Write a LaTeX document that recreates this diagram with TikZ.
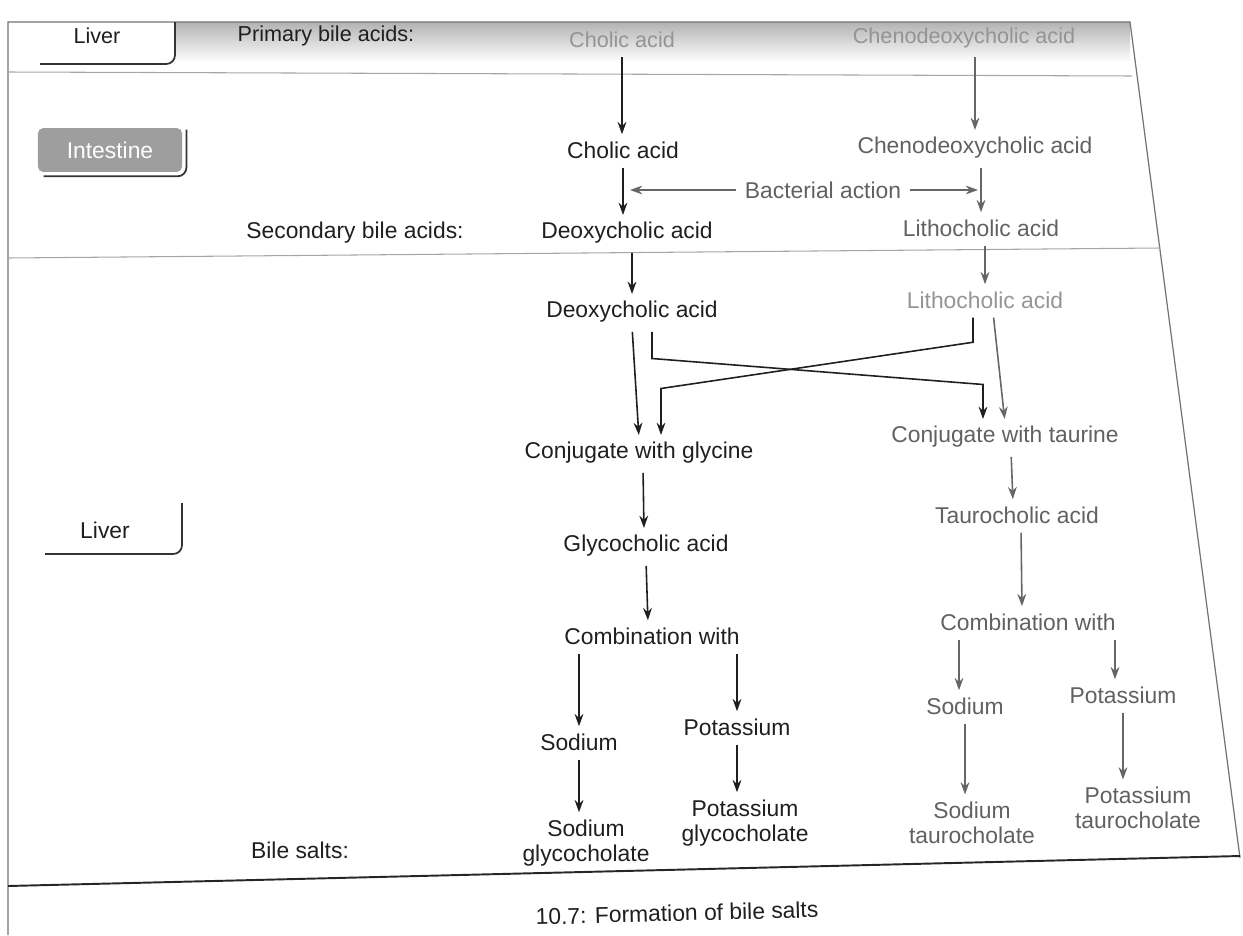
\documentclass[tikz,border=0pt]{standalone}
\usepackage{fontspec}
\setmainfont{Liberation Sans}
\usetikzlibrary{arrows.meta,calc}
\begin{document}
\begin{tikzpicture}[x=0.2mm,y=-0.2mm,
 lbl/.style={inner sep=2pt, align=center, font=\fontsize{13}{14.5}\selectfont},
 dk/.style={lbl, text=black!88},
 md/.style={lbl, text=black!62},
 lt/.style={lbl, text=black!42},
 toprow/.style={font=\fontsize{12.3}{14}\selectfont},
 arr/.style={-{Stealth[length=7pt,width=5pt]}, line width=0.9pt, draw=black!88, shorten <=3pt, shorten >=2pt},
 marr/.style={arr, draw=black!60},
 rulebar/.style={line width=0.6pt, draw=black!35},
 framebar/.style={line width=0.7pt, draw=black!55},
 boxedge/.style={line width=1pt, draw=black!80, rounded corners=5pt},
 intest/.style={lbl, fill=black!38, text=white, rounded corners=3pt, minimum width=82pt, minimum height=25pt},
]
\useasboundingbox (0,0) rectangle (1243,935);
% photo shadow band and frame
\shade[top color=black!30, bottom color=white] (175,22) rectangle (1130,62);
\draw[framebar] (8,935) -- (8,22) -- (1130,22) -- (1240,858);
\draw[line width=1.1pt, draw=black!85] (8,886) -- (1240,856);
\draw[rulebar] (8,72) -- (1132,76);
\draw[rulebar] (8,258) -- (1160,248);

% region labels
\node[dk,toprow] (liv1) at (97,36) {Liver};
\draw[boxedge] (40,64) -- (175,64) -- (175,22);
\node[intest] (int) at (110,150) {Intestine};
\draw[boxedge] ($(int.south west)+(6,4)$) -- ($(int.south east)+(4,4)$) -- ($(int.north east)+(4,2)$);
\node[dk] (liv2) at (105,530) {Liver};
\draw[boxedge] (45,554) -- (182,554) -- (182,503);

% row labels
\node[dk,toprow] (pba) at (326,36) {Primary bile acids:};
\node[dk] (sba) at (355,233) {Secondary bile acids:};
\node[dk] (bs) at (300,850) {Bile salts:};

% nodes
\node[lt,toprow] (cho1) at (622,40) {Cholic acid};
\node[lt,toprow] (che1) at (964,38) {Chenodeoxycholic acid};
\node[dk] (cho2) at (623,150) {Cholic acid};
\node[md] (che2) at (975,148) {Chenodeoxycholic acid};
\node[md] (bac) at (823,190) {Bacterial action};
\node[dk] (deo1) at (627,233) {Deoxycholic acid};
\node[md] (lit1) at (981,228) {Lithocholic acid};
\node[dk] (deo2) at (632,312) {Deoxycholic acid};
\node[lt] (lit2) at (985,300) {Lithocholic acid};
\node[dk] (cgly) at (639,453) {Conjugate with glycine};
\node[md] (ctau) at (1005,437) {Conjugate with taurine};
\node[dk] (gca) at (646,546) {Glycocholic acid};
\node[md] (tca) at (1017,515) {Taurocholic acid};
\node[dk] (cw1) at (652,636) {Combination with};
\node[md] (cw2) at (1028,622) {Combination with};
\node[dk] (na1) at (579,742) {Sodium};
\node[dk] (k1) at (737,727) {Potassium};
\node[md] (na2) at (965,706) {Sodium};
\node[md] (k2) at (1123,695) {Potassium};
\node[dk] (nag) at (586,843) {Sodium\\glycocholate};
\node[dk] (kg) at (745,823) {Potassium\\glycocholate};
\node[md] (nat) at (972,823) {Sodium\\taurocholate};
\node[md] (kt) at (1138,808) {Potassium\\taurocholate};
\node[dk, rotate=1.5] (cap) at (677,913) {10.7: Formation of bile salts};

% bacterial action arrows
\coordinate (bacl) at (630,190);
\coordinate (bacr) at (978,190);
\draw[marr, line width=0.6pt, shorten >=0pt] (bac.west) -- (bacl);
\draw[marr, line width=0.6pt, shorten >=0pt] (bac.east) -- (bacr);

% vertical flow
\draw[arr] (cho1.south) -- (cho1.south |- cho2.north);
\draw[marr] (che1.south -| che2.north) -- (che2.north);
\draw[arr] (cho2.south) -- (cho2.south |- deo1.north);
\draw[marr] (che2.south -| lit1.north) -- (lit1.north);
\draw[arr] (deo1.south -| deo2.north) -- (deo2.north);
\draw[marr] (lit1.south -| lit2.north) -- (lit2.north);

% crossing conjugation paths
\draw[arr] (deo2.south) -- (cgly.north);
\draw[arr] ($(deo2.south)+(20,0)$) -- ++(0,32) -- ($(ctau.north)+(-22,-38)$) -- ($(ctau.north)+(-22,0)$);
\draw[arr] ($(lit2.south)+(-12,0)$) -- ++(0,30) -- ($(cgly.north)+(22,-50)$) -- ($(cgly.north)+(22,0)$);
\draw[marr] ($(lit2.south)+(8,0)$) -- (ctau.north);

% lower flow
\draw[arr] ($(cgly.south)+(4,0)$) -- ($(gca.north)+(-2,0)$);
\draw[arr] (gca.south) -- ($(cw1.north)+(-4,0)$);
\draw[marr] ($(ctau.south)+(6,0)$) -- ($(tca.north)+(-4,0)$);
\draw[marr] ($(tca.south)+(4,0)$) -- ($(cw2.north)+(-6,0)$);
\draw[arr] (cw1.south -| na1.north) -- (na1.north);
\draw[arr] (cw1.south -| k1.north) -- (k1.north);
\draw[marr] ($(cw2.south -| na2.north)+(-6,0)$) -- ($(na2.north)+(-6,0)$);
\draw[marr] ($(cw2.south -| k2.north)+(-8,0)$) -- ($(k2.north)+(-8,0)$);
\draw[arr] (na1.south) -- (na1.south |- nag.north);
\draw[arr] (k1.south) -- (k1.south |- kg.north);
\draw[marr] (na2.south) -- (na2.south |- nat.north);
\draw[marr] (k2.south) -- (k2.south |- kt.north);
\end{tikzpicture}
\end{document}
